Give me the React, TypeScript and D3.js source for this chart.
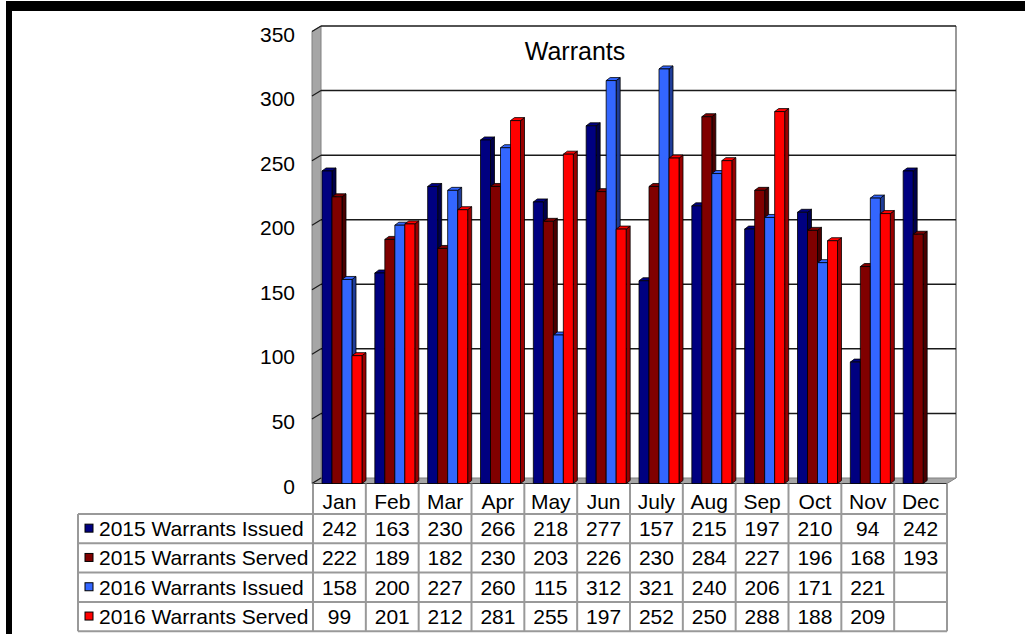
import * as d3 from 'd3';
import React from 'react';

const months = ['Jan', 'Feb', 'Mar', 'Apr', 'May', 'Jun', 'July', 'Aug', 'Sep', 'Oct', 'Nov', 'Dec'];
const issued2015 = [242, 163, 230, 266, 218, 277, 157, 215, 197, 210, 94, 242];
const served2015 = [222, 189, 182, 230, 203, 226, 230, 284, 227, 196, 168, 193];
const issued2016 = [158, 200, 227, 260, 115, 312, 321, 240, 206, 171, 221, null];
const served2016 = [99, 201, 212, 281, 255, 197, 252, 250, 288, 188, 209, null];
const seriesNames = ['2015 Warrants Issued', '2015 Warrants Served', '2016 Warrants Issued', '2016 Warrants Served'];
const yTicks = [0, 50, 100, 150, 200, 250, 300, 350];

const seriesValues = [issued2015, served2015, issued2016, served2016];
const fronts = ['#000080', '#800000', '#3366ff', '#ff0000'];
const sides = ['#00004a', '#4a0000', '#1f3d99', '#9a0000'];

const FONT = '"Liberation Sans", Arial, sans-serif';
const FS = 21;

function App() {
  const W = 1025;
  const H = 634;
  // 3d offsets for walls and bars
  const dx = 9, dy = 5.5;
  const bdx = 4, bdy = 3;

  const x = d3.scaleBand<string>().domain(months).range([313, 947]);
  const xs = d3.scaleBand<string>().domain(seriesNames).range([9, 49]);
  const yFront = d3.scaleLinear().domain([0, 350]).range([483.5, 31.5]);
  const yBack = (v: number) => yFront(v) - dy;

  const left = x.range()[0];
  const right = x.range()[1];
  const base = yFront(0);

  const rowTop = base;
  const headerBottom = 514;
  const rowH = 29.3;
  const legendLeft = 78;
  const rowYs = seriesNames.map((_, i) => headerBottom + i * rowH);
  const tableBottom = headerBottom + seriesNames.length * rowH;

  const bars: JSX.Element[] = [];
  months.forEach((m, mi) => {
    seriesValues.forEach((vals, si) => {
      const v = vals[mi];
      if (v == null) return;
      const bx = (x(m) || 0) + (xs(seriesNames[si]) || 0);
      const bw = xs.bandwidth();
      const top = yFront(v);
      bars.push(
        <g key={m + si} stroke="#000" strokeWidth={0.8} strokeLinejoin="round">
          <polygon
            points={`${bx + bw},${top} ${bx + bw + bdx},${top - bdy} ${bx + bw + bdx},${base - bdy} ${bx + bw},${base}`}
            fill={sides[si]}
          />
          <polygon
            points={`${bx},${top} ${bx + bdx},${top - bdy} ${bx + bw + bdx},${top - bdy} ${bx + bw},${top}`}
            fill={fronts[si]}
          />
          <rect x={bx} y={top} width={bw} height={base - top} fill={fronts[si]} />
        </g>
      );
    });
  });

  return (
    <div style={{ position: 'absolute', left: 0, top: 0 }}>
      <svg width={W} height={H} style={{ display: 'block', background: '#fff' }}>
        {/* frame */}
        <rect x={6} y={1} width={W - 6} height={10} fill="#000" />
        <rect x={6} y={1} width={6} height={H} fill="#000" />

        {/* side wall */}
        <polygon
          points={`${left - 1},${yFront(350)} ${left - 1 + dx},${yBack(350)} ${left - 1 + dx},${yBack(0)} ${left - 1},${yFront(0)}`}
          fill="#a6a6a6"
          stroke="#808080"
          strokeWidth={1}
        />
        {/* floor */}
        <polygon
          points={`${left - 1},${base} ${left - 1 + dx},${yBack(0)} ${right + dx},${yBack(0)} ${right},${base}`}
          fill="#a6a6a6"
          stroke="#808080"
          strokeWidth={1}
        />
        {/* back wall right edge */}
        <line x1={right + dx} x2={right + dx} y1={yBack(350)} y2={yBack(0)} stroke="#999" strokeWidth={2} />

        {/* gridlines */}
        {yTicks.map(t => (
          <g key={t}>
            {t > 0 && (
              <line x1={left - 1 + dx} x2={right + dx} y1={yBack(t)} y2={yBack(t)} stroke="#1a1a1a" strokeWidth={1.5} />
            )}
            <line x1={left - 1} x2={left - 1 + dx} y1={yFront(t)} y2={yBack(t)} stroke="#1a1a1a" strokeWidth={1.2} />
            <text x={295} y={yFront(t) + 10} textAnchor="end" fontFamily={FONT} fontSize={FS} fill="#000">
              {t}
            </text>
          </g>
        ))}

        <line x1={left - 1} x2={right} y1={base} y2={base} stroke="#333" strokeWidth={1.2} />

        {/* bars */}
        {bars}

        {/* title */}
        <text x={575} y={60} textAnchor="middle" fontFamily={FONT} fontSize={25} fill="#000">
          Warrants
        </text>

        {/* data table */}
        <g stroke="#999" strokeWidth={2}>
          {months.map(m => (
            <line key={'v' + m} x1={x(m)} x2={x(m)} y1={rowTop} y2={tableBottom} />
          ))}
          <line x1={right} x2={right} y1={rowTop} y2={tableBottom} />
          <line x1={legendLeft} x2={legendLeft} y1={headerBottom} y2={tableBottom} />
          {rowYs.map(ry => (
            <line key={'h' + ry} x1={legendLeft} x2={right} y1={ry} y2={ry} />
          ))}
          <line x1={legendLeft} x2={right} y1={tableBottom} y2={tableBottom} />
        </g>

        {months.map(m => (
          <text
            key={'m' + m}
            x={(x(m) || 0) + x.bandwidth() / 2}
            y={509}
            textAnchor="middle"
            fontFamily={FONT}
            fontSize={FS}
            fill="#000"
          >
            {m}
          </text>
        ))}

        {seriesNames.map((name, si) => {
          const cy = rowYs[si] + rowH / 2;
          return (
            <g key={name}>
              <rect x={85} y={cy - 4.5} width={8} height={8} fill={fronts[si]} stroke="#000" strokeWidth={1} />
              <text x={99} y={cy + 7.5} fontFamily={FONT} fontSize={FS} fill="#000">
                {name}
              </text>
              {seriesValues[si].map((v, mi) =>
                v == null ? null : (
                  <text
                    key={mi}
                    x={(x(months[mi]) || 0) + x.bandwidth() / 2}
                    y={cy + 7.5}
                    textAnchor="middle"
                    fontFamily={FONT}
                    fontSize={FS}
                    fill="#000"
                  >
                    {v}
                  </text>
                )
              )}
            </g>
          );
        })}
      </svg>
    </div>
  );
}

export default App;
